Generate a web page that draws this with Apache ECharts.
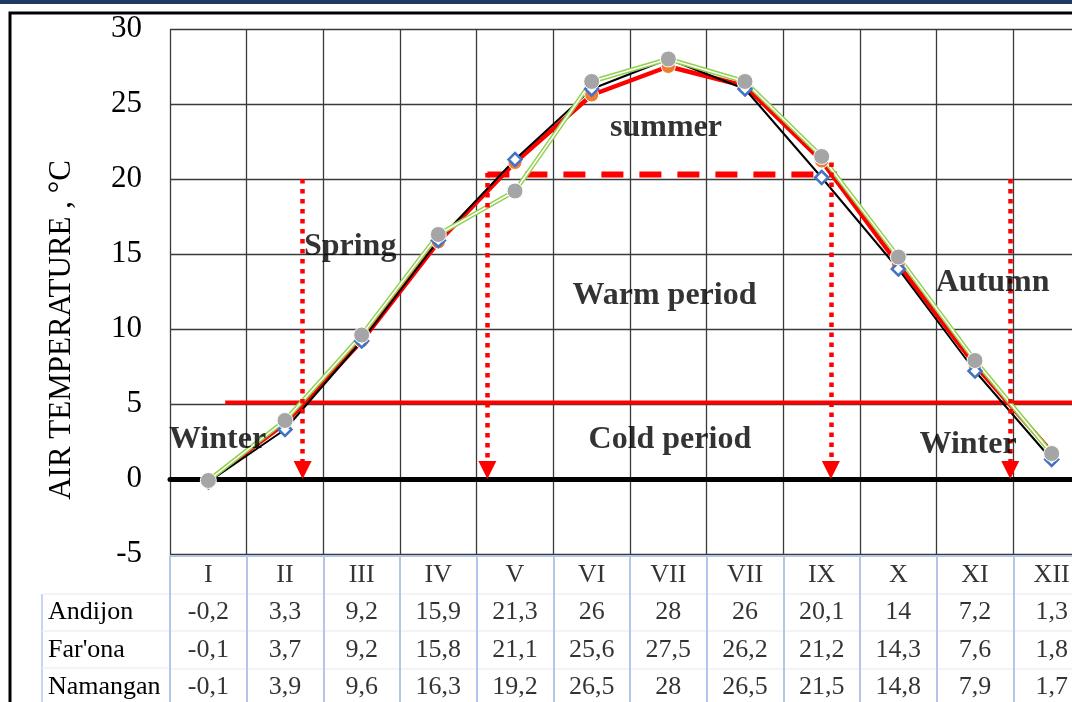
<!DOCTYPE html>
<html>
<head>
<meta charset="utf-8">
<script src="https://cdn.jsdelivr.net/npm/echarts@6/dist/echarts.min.js"></script>
<style>
  html, body { margin: 0; padding: 0; background: #fff; }
  #chart { width: 1072px; height: 702px; }
</style>
</head>
<body>
<div id="chart"></div>
<script>
// months (table header) and the three stations
const months = ['I', 'II', 'III', 'IV', 'V', 'VI', 'VII', 'VII', 'IX', 'X', 'XI', 'XII']
const monthKeys = months.map((m, i) => i + ':' + m)
const stations = ['Andijon', "Far'ona", 'Namangan']
const andijon = [-0.2, 3.3, 9.2, 15.9, 21.3, 26, 28, 26, 20.1, 14, 7.2, 1.3]
const fargona = [-0.1, 3.7, 9.2, 15.8, 21.1, 25.6, 27.5, 26.2, 21.2, 14.3, 7.6, 1.8]
const namangan = [-0.1, 3.9, 9.6, 16.3, 19.2, 26.5, 28, 26.5, 21.5, 14.8, 7.9, 1.7]
const yTicks = { min: -5, max: 30, interval: 5 }

// annotations, in (month index, temperature) units
const arrows = [[1.23, 20], [3.64, 20.4], [8.12, 21.1], [10.46, 20]]
const warmLine = [[3.64, 20.3], [8.2, 20.3]]
const coldLine = [[0.22, 5.1], [11.5, 5.1]]
const seasonLabels = [
  [0.12, 2.6, 'Winter'],
  [1.85, 15.5, 'Spring'],
  [5.97, 23.4, 'summer'],
  [5.95, 12.2, 'Warm period'],
  [10.23, 13.1, 'Autumn'],
  [6.02, 2.6, 'Cold period'],
  [9.91, 2.3, 'Winter']
]

const serif = 'Liberation Serif, Times New Roman, serif'
const fmt = v => String(v).replace('.', ',')

const chart = echarts.init(document.getElementById('chart'))

const cellLabel = { show: true, position: 'inside', color: '#000', fontFamily: serif, fontSize: 26 }

const tableSeries = [{
  type: 'scatter',
  xAxisIndex: 2,
  yAxisIndex: 1,
  symbolSize: 1,
  itemStyle: { color: 'transparent' },
  label: Object.assign({ formatter: p => p.data[2] }, cellLabel),
  data: monthKeys.map((k, i) => [k, 'head', months[i]])
}].concat([andijon, fargona, namangan].map((vals, s) => ({
  type: 'scatter',
  xAxisIndex: 2,
  yAxisIndex: 1,
  symbolSize: 1,
  itemStyle: { color: 'transparent' },
  label: Object.assign({ formatter: p => fmt(p.data[2]) }, cellLabel),
  data: vals.map((v, i) => [monthKeys[i], stations[s], v])
})))

const option = {
  animation: false,
  graphic: [
    { type: 'rect', shape: { x: 0, y: 0, width: 1072, height: 4 }, style: { fill: '#1f3864' } },
    { type: 'rect', shape: { x: 10, y: 13, width: 1120, height: 720 }, style: { fill: 'none', stroke: '#000', lineWidth: 3 } },
    { type: 'line', shape: { x1: 42, y1: 594, x2: 42, y2: 702 }, style: { stroke: '#b4c6e7', lineWidth: 1.5 } },
    { type: 'line', shape: { x1: 42, y1: 594, x2: 170, y2: 594 }, style: { stroke: '#eef1f7', lineWidth: 1.5 } },
    { type: 'line', shape: { x1: 42, y1: 631, x2: 170, y2: 631 }, style: { stroke: '#eef1f7', lineWidth: 1.5 } },
    { type: 'line', shape: { x1: 42, y1: 668, x2: 170, y2: 668 }, style: { stroke: '#eef1f7', lineWidth: 1.5 } },
    {
      type: 'text',
      x: 62,
      y: 330,
      rotation: Math.PI / 2,
      style: { text: 'AIR TEMPERATURE , °C', fill: '#000', font: '31px ' + serif, align: 'center', verticalAlign: 'middle' }
    }
  ],
  grid: [
    { left: 170, top: 29, right: -18, height: 525, outerBoundsMode: 'none' },
    { left: 170, top: 556, right: -18, height: 150, outerBoundsMode: 'none' }
  ],
  xAxis: [
    {
      type: 'category',
      gridIndex: 0,
      data: monthKeys,
      boundaryGap: true,
      axisLabel: { show: false },
      axisTick: { show: false },
      axisLine: { show: true, onZero: true, lineStyle: { color: '#000', width: 5 } },
      splitLine: { show: true, lineStyle: { color: '#3a3a3a', width: 1.3 } }
    },
    {
      type: 'value',
      gridIndex: 0,
      min: -0.5,
      max: 11.5,
      show: false
    },
    {
      type: 'category',
      gridIndex: 1,
      position: 'top',
      data: monthKeys,
      boundaryGap: true,
      axisLabel: { show: false },
      axisTick: { show: false },
      axisLine: { show: true, lineStyle: { color: '#b4c6e7', width: 2 } },
      splitLine: { show: true, lineStyle: { color: '#b4c6e7', width: 2 } }
    }
  ],
  yAxis: [
    {
      type: 'value',
      gridIndex: 0,
      min: yTicks.min,
      max: yTicks.max,
      interval: yTicks.interval,
      axisLine: { show: false },
      axisTick: { show: false },
      axisLabel: { color: '#000', fontFamily: serif, fontSize: 31, margin: 28 },
      splitLine: { show: true, lineStyle: { color: '#3a3a3a', width: 1.3 } }
    },
    {
      type: 'category',
      gridIndex: 1,
      inverse: true,
      data: ['head'].concat(stations),
      axisLine: { show: false },
      axisTick: { show: false },
      axisLabel: { color: '#000', fontFamily: serif, fontSize: 26, align: 'left', margin: 122, formatter: v => v === 'head' ? '' : v },
      splitLine: { show: true, lineStyle: { color: '#eef1f7', width: 1.5 } }
    }
  ],
  series: [
    {
      name: "Far'ona",
      type: 'line',
      data: fargona,
      symbol: 'circle',
      symbolSize: 14,
      itemStyle: { color: '#ed7d31', borderColor: '#fff', borderWidth: 1 },
      lineStyle: { color: '#ff0000', width: 4.5 },
      z: 3
    },
    {
      name: 'Andijon',
      type: 'line',
      data: andijon,
      symbol: 'diamond',
      symbolSize: 13,
      itemStyle: { color: '#fff', borderColor: '#4472c4', borderWidth: 2.5 },
      lineStyle: { color: '#000', width: 2 },
      z: 3
    },
    {
      name: 'Namangan',
      type: 'line',
      data: namangan,
      symbol: 'none',
      lineStyle: { color: '#92d050', width: 4.5 },
      z: 3
    },
    {
      name: 'Namangan',
      type: 'line',
      data: namangan,
      symbol: 'none',
      lineStyle: { color: '#fff', width: 1.5 },
      z: 3
    },
    {
      name: 'Namangan',
      type: 'line',
      data: namangan,
      symbol: 'circle',
      symbolSize: 16,
      itemStyle: { color: '#a5a5a5', borderColor: '#fff', borderWidth: 1 },
      lineStyle: { opacity: 0 },
      z: 3
    },
    {
      type: 'line',
      xAxisIndex: 1,
      data: coldLine,
      symbol: 'none',
      lineStyle: { color: '#ff0000', width: 4 },
      z: 2
    },
    {
      type: 'line',
      xAxisIndex: 1,
      data: warmLine,
      symbol: 'none',
      lineStyle: { color: '#ff0000', width: 6, type: [22, 16] },
      z: 2
    },
    {
      type: 'line',
      xAxisIndex: 1,
      data: [],
      symbol: 'none',
      z: 2,
      markLine: {
        silent: true,
        symbol: ['none', 'triangle'],
        symbolSize: [18, 18],
        symbolRotate: 180,
        label: { show: false },
        lineStyle: { color: '#ff0000', width: 4.5, type: [4.5, 5.5] },
        data: arrows.map(a => [{ coord: [a[0], a[1]] }, { coord: [a[0], 0.6] }])
      }
    },
    {
      type: 'scatter',
      xAxisIndex: 1,
      symbolSize: 1,
      itemStyle: { color: 'transparent' },
      z: 5,
      label: {
        show: true,
        position: 'inside',
        color: '#000',
        fontFamily: serif,
        fontWeight: 'bold',
        fontSize: 32,
        formatter: p => p.data[2]
      },
      data: seasonLabels
    }
  ].concat(tableSeries)
}

chart.setOption(option)
</script>
</body>
</html>
